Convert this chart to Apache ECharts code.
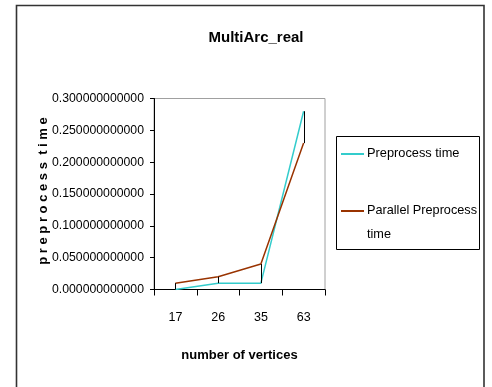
<!DOCTYPE html>
<html>
<head>
<meta charset="utf-8">
<title>MultiArc_real</title>
<script src="https://cdn.jsdelivr.net/npm/echarts@6/dist/echarts.min.js"></script>
<style>
  html, body { margin: 0; padding: 0; background: #fff; }
  #chart { width: 492px; height: 387px; }
</style>
</head>
<body>
<div id="chart"></div>
<script>
// Vertex counts of the test graphs
const vertices = ['17', '26', '35', '63'];
// Measured preprocessing times
const preprocessTime = [0.0, 0.01, 0.01, 0.28];
const parallelPreprocessTime = [0.01, 0.02, 0.04, 0.23];
// Value axis ticks
const yTicks = [0, 0.05, 0.10, 0.15, 0.20, 0.25, 0.30];

const FONT = "'Liberation Sans', Arial, sans-serif";
const CYAN = '#33CCCC';
const BROWN = '#993300';

const chart = echarts.init(document.getElementById('chart'), null, { renderer: 'canvas' });

const option = {
  backgroundColor: '#ffffff',
  animation: false,
  title: {
    text: 'MultiArc_real',
    left: 251,
    top: 25,
    textAlign: 'center',
    textStyle: { fontFamily: FONT, fontSize: 15, fontWeight: 'bold', color: '#000' }
  },
  grid: {
    left: 154,
    right: 167,
    top: 98.5,
    bottom: 97.5,
    show: true,
    borderColor: '#a0a0a0',
    borderWidth: 1,
    backgroundColor: 'transparent'
  },
  xAxis: {
    type: 'category',
    data: vertices,
    boundaryGap: true,
    name: 'number of vertices',
    nameLocation: 'middle',
    nameGap: 59,
    nameMoveOverlap: false,
    nameTextStyle: { fontFamily: FONT, fontSize: 13, fontWeight: 'bold', color: '#000', verticalAlign: 'top' },
    axisLine: { show: true, lineStyle: { color: '#000', width: 1 } },
    axisTick: { show: true, inside: false, length: 6, lineStyle: { color: '#000' } },
    axisLabel: { margin: 28, fontFamily: FONT, fontSize: 12.5, color: '#000', verticalAlign: 'middle' },
    splitLine: { show: false }
  },
  yAxis: {
    type: 'value',
    min: yTicks[0],
    max: yTicks[yTicks.length - 1],
    interval: yTicks[1] - yTicks[0],
    name: 'p r e p r o c e s s  t i m e',
    nameLocation: 'middle',
    nameGap: 104,
    nameRotate: 90,
    nameMoveOverlap: false,
    nameTextStyle: { fontFamily: FONT, fontSize: 13, fontWeight: 'bold', color: '#000', verticalAlign: 'bottom', padding: [0, 0, 0, 6] },
    axisLine: { show: true, lineStyle: { color: '#000', width: 1 } },
    axisTick: { show: true, inside: false, length: 4, lineStyle: { color: '#000' } },
    axisLabel: {
      margin: 10,
      fontFamily: FONT,
      fontSize: 12.25,
      color: '#000',
      formatter: v => v.toFixed(12)
    },
    splitLine: { show: false }
  },
  series: [
    {
      name: 'Preprocess time',
      type: 'line',
      data: preprocessTime,
      symbol: 'none',
      lineStyle: { color: CYAN, width: 1.5 },
      itemStyle: { color: CYAN },
      z: 3
    },
    {
      name: 'Parallel Preprocess time',
      type: 'line',
      data: parallelPreprocessTime,
      symbol: 'none',
      lineStyle: { color: BROWN, width: 1.5 },
      itemStyle: { color: BROWN },
      z: 3
    },
    {
      // high-low lines joining the two series at each vertex count
      name: 'high-low',
      type: 'custom',
      data: vertices.map((v, i) => [i, Math.min(preprocessTime[i], parallelPreprocessTime[i]), Math.max(preprocessTime[i], parallelPreprocessTime[i])]),
      encode: { x: 0, y: [1, 2] },
      renderItem: (params, api) => {
        const lo = api.coord([api.value(0), api.value(1)]);
        const hi = api.coord([api.value(0), api.value(2)]);
        return {
          type: 'line',
          shape: { x1: Math.round(lo[0]) + 0.5, y1: lo[1], x2: Math.round(hi[0]) + 0.5, y2: hi[1] },
          style: { stroke: '#000', lineWidth: 1 }
        };
      },
      z: 4
    }
  ],
  graphic: [
    {
      // outer chart frame
      type: 'rect',
      shape: { x: 16.5, y: 5.5, width: 467.5, height: 420 },
      style: { fill: 'none', stroke: '#333', lineWidth: 1.6 },
      silent: true
    },
    {
      type: 'group',
      left: 336,
      top: 136,
      children: [
        { type: 'rect', shape: { x: 0.5, y: 0.5, width: 143, height: 113 }, style: { fill: '#fff', stroke: '#000', lineWidth: 1 } },
        { type: 'line', shape: { x1: 5, y1: 18, x2: 28, y2: 18 }, style: { stroke: CYAN, lineWidth: 2 } },
        { type: 'text', x: 31, y: 17, style: { text: 'Preprocess time', font: '12.8px ' + FONT, fill: '#000', verticalAlign: 'middle' } },
        { type: 'line', shape: { x1: 5, y1: 75, x2: 28, y2: 75 }, style: { stroke: BROWN, lineWidth: 2 } },
        { type: 'text', x: 31, y: 74, style: { text: 'Parallel Preprocess', font: '12.7px ' + FONT, fill: '#000', verticalAlign: 'middle' } },
        { type: 'text', x: 31, y: 98, style: { text: 'time', font: '12.7px ' + FONT, fill: '#000', verticalAlign: 'middle' } }
      ]
    }
  ]
};

chart.setOption(option);
</script>
</body>
</html>
